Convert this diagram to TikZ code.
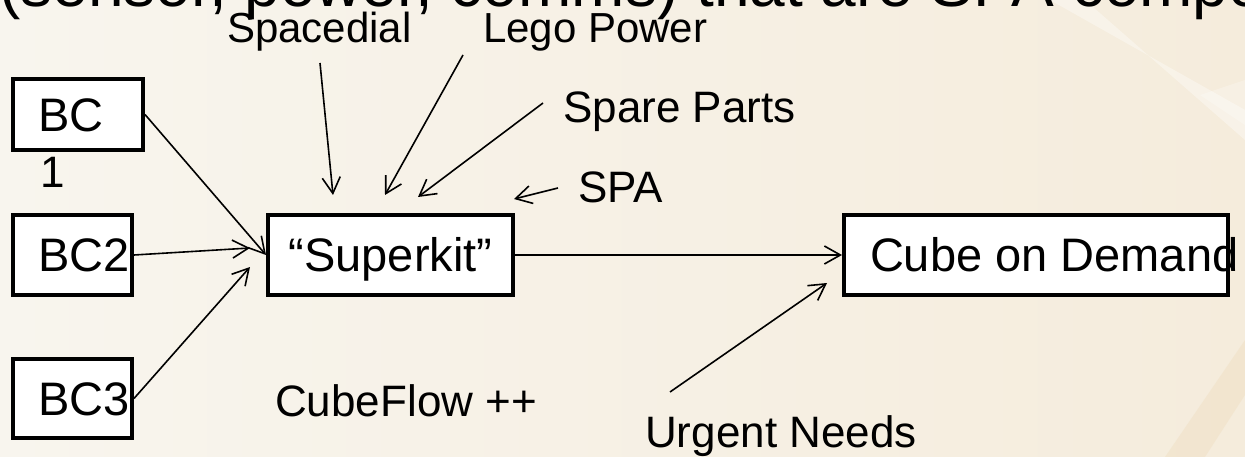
\documentclass[tikz,border=0pt]{standalone}
\usepackage{fontspec}
\setmainfont{Liberation Sans}
\usetikzlibrary{arrows.meta}
\definecolor{bgl}{RGB}{248,245,238}
\definecolor{bgr}{RGB}{245,236,220}
\definecolor{bgtan}{RGB}{240,225,198}
\tikzset{
  box/.style={draw, line width=4pt, fill=white, inner sep=0pt,
    font=\fontsize{47}{56}\selectfont, text height=33.6pt, text depth=0pt},
  lbl/.style={anchor=base west, inner sep=0pt, font=\fontsize{44}{52}\selectfont},
  smalllbl/.style={anchor=base west, inner sep=0pt, font=\fontsize{42}{50}\selectfont},
  conn/.style={line width=1.6pt, -{Straight Barb[length=16pt, width=18pt]}}
}
\begin{document}
\begin{tikzpicture}[x=1pt, y=-1pt]
\useasboundingbox (0,0) rectangle (1245,457);
\clip (0,0) rectangle (1245,457);
\fill[left color=bgl, right color=bgr] (0,0) rectangle (1245,457);
\fill[white, opacity=0.35] (1050,0) -- (1085,0) -- (1245,140) -- (1245,110) -- cycle;
\fill[white, opacity=0.25] (1200,95) -- (1245,80) -- (1245,125) -- cycle;
\fill[bgtan, opacity=0.55] (1165,457) -- (1245,340) -- (1245,395) -- (1205,457) -- cycle;

% title (cut at the top)
\node[anchor=base west, inner sep=0pt, font=\fontsize{64}{70}\selectfont] (title) at (-1,7) {(sensor, power, comms) that are SPA compo};

% boxes
\node[box, minimum width=130pt, minimum height=71pt] (bc1) at (78,114.5) {\makebox[80pt][l]{BC}};
\node[lbl] (bc1b) at (40,188) {1};
\node[box, minimum width=119pt, minimum height=80pt] (bc2) at (72.5,255) {\makebox[69pt][l]{BC2}};
\node[box, minimum width=119pt, minimum height=79pt] (bc3) at (72.5,398.5) {\makebox[69pt][l]{BC3}};
\node[box, minimum width=245pt, minimum height=80pt] (sk) at (390.5,255) {“Superkit”};
\node[box, minimum width=384pt, minimum height=80pt] (cube) at (1036,255) {\makebox[332pt][l]{Cube on Demand}};

% labels
\node[smalllbl] (spacedial) at (227,43) {Spacedial};
\node[smalllbl] (lego) at (483,43) {Lego Power};
\node[lbl] (spare) at (563,123) {Spare Parts};
\node[lbl] (spa) at (578,203) {SPA};
\node[lbl] (cubeflow) at (275,416) {CubeFlow ++};
\node[lbl] (urgent) at (645,447) {Urgent Needs};

% free ends
\coordinate (sd1) at (320,63);  \coordinate (sd2) at (333,195);
\coordinate (lg1) at (463,55);  \coordinate (lg2) at (385,195);
\coordinate (sp1) at (543,103); \coordinate (sp2) at (418,197);
\coordinate (sa1) at (558,188); \coordinate (sa2) at (514,199);
\coordinate (un1) at (670,392); \coordinate (un2) at (827,283);
\coordinate (b2e) at (250,248); \coordinate (b3e) at (250,267);

% connectors
\draw[conn] (sd1) -- (sd2);
\draw[conn] (lg1) -- (lg2);
\draw[conn] (sp1) -- (sp2);
\draw[conn] (sa1) -- (sa2);
\draw[conn] (un1) -- (un2);
\draw[conn] (bc1.east) -- (sk.west);
\draw[conn] (bc2.east) -- (b2e);
\draw[conn] (bc3.east) -- (b3e);
\draw[conn] (sk.east) -- (cube.west);
\end{tikzpicture}
\end{document}
